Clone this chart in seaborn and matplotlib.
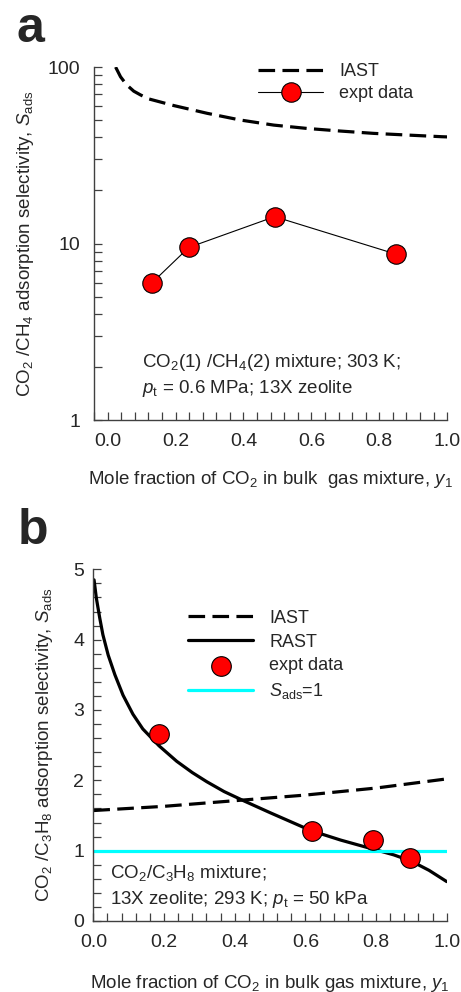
import numpy as np
import pandas as pd
import seaborn as sns
import matplotlib.pyplot as plt
from matplotlib.ticker import MultipleLocator, LogLocator, FixedLocator, NullFormatter

# panel a : CO2/CH4, 13X, 303 K
a_iast_x = [0.0235, 0.038, 0.056, 0.077, 0.097, 0.121, 0.195, 0.293, 0.391, 0.489,
            0.587, 0.685, 0.783, 0.881, 0.984, 1.0]
a_iast_y = [100.0, 88.1, 79.3, 73.0, 69.5, 66.0, 60.5, 54.7, 50.1, 46.9,
            44.9, 43.4, 42.1, 41.2, 40.3, 40.2]
a_expt_x = [0.131, 0.239, 0.492, 0.85]
a_expt_y = [6.0, 9.5, 14.2, 8.7]

# panel b : CO2/C3H8, 13X, 293 K
b_rast_x = [0.002, 0.0085, 0.018, 0.027, 0.042, 0.061, 0.084, 0.112, 0.14, 0.186,
            0.236, 0.28, 0.321, 0.37, 0.425, 0.5, 0.55, 0.6, 0.65, 0.7, 0.75,
            0.8, 0.85, 0.9, 0.95, 1.0]
b_rast_y = [4.85, 4.59, 4.31, 4.07, 3.78, 3.50, 3.21, 2.94, 2.73, 2.49,
            2.27, 2.11, 1.98, 1.84, 1.71, 1.54, 1.43, 1.32, 1.23, 1.15, 1.08,
            1.01, 0.94, 0.85, 0.72, 0.56]
b_iast_x = [0.0, 0.2, 0.4, 0.6, 0.8, 1.0]
b_iast_y = [1.57, 1.63, 1.71, 1.79, 1.89, 2.02]
b_expt_x = [0.186, 0.62, 0.79, 0.896]
b_expt_y = [2.66, 1.285, 1.15, 0.896]
b_unity_x = [0.0, 1.0]
b_unity_y = [1.0, 1.0]

sns.set_style("ticks")
plt.rcParams['font.family'] = ['Liberation Sans', 'DejaVu Sans']
plt.rcParams['mathtext.fontset'] = 'custom'
plt.rcParams['mathtext.rm'] = 'Liberation Sans'
plt.rcParams['mathtext.it'] = 'Liberation Sans:italic'

FS = 13.5      # labels, notes
TFS = 14       # tick labels
LFS = 13       # legend
SPINE = '#404040'
DASH = (0, (5.2, 2.3))

fig = plt.figure(figsize=(4.61, 9.92), dpi=100)
ax1 = fig.add_axes([0.204, 0.5766, 0.766, 0.3558])
ax2 = fig.add_axes([0.2025, 0.0716, 0.7665, 0.3545])

def style_axis(ax):
    sns.despine(ax=ax)
    for s in ['left', 'bottom']:
        ax.spines[s].set_color(SPINE)
        ax.spines[s].set_linewidth(1.0)
    ax.tick_params(which='both', direction='in', length=6, width=0.9,
                   color=SPINE, labelsize=TFS, top=False, right=False)

# ---- a ----
sns.lineplot(x=a_iast_x, y=a_iast_y, ax=ax1, color='black', lw=2.3,
             sort=False, estimator=None, label='IAST')
ax1.lines[-1].set_linestyle(DASH)
sns.lineplot(x=a_expt_x, y=a_expt_y, ax=ax1, color='black', lw=0.8, marker='o',
             markersize=14, markerfacecolor='red', markeredgecolor='black',
             markeredgewidth=0.8, sort=False, estimator=None, label='expt data')
ax1.set_yscale('log')
ax1.set_ylim(1, 100)
ax1.set_xlim(-0.04, 1.0)
ax1.xaxis.set_major_locator(FixedLocator([0, 0.2, 0.4, 0.6, 0.8, 1.0]))
ax1.xaxis.set_minor_locator(MultipleLocator(0.04))
ax1.yaxis.set_major_locator(FixedLocator([1, 10, 100]))
ax1.yaxis.set_minor_locator(LogLocator(subs=np.arange(2, 10)))
ax1.yaxis.set_minor_formatter(NullFormatter())
ax1.set_yticklabels(['1', '10', '100'])
ax1.set_xticklabels(['0.0', '0.2', '0.4', '0.6', '0.8', '1.0'])
style_axis(ax1)
ax1.tick_params(axis='y', pad=10)
ax1.tick_params(axis='x', pad=9.0)
ax1.set_xlabel(r'Mole fraction of CO$_2$ in bulk  gas mixture, $y_1$', fontsize=FS)
ax1.set_ylabel(r'CO$_2$ /CH$_4$ adsorption selectivity, $S_{\mathrm{ads}}$', fontsize=FS)
ax1.xaxis.set_label_coords(0.5, -0.14)
ax1.yaxis.set_label_coords(-0.163, 0.5)
h, l = ax1.get_legend_handles_labels()
ax1.legend(h, l, loc='upper left', bbox_to_anchor=(0.465, 1.012), frameon=False,
           fontsize=LFS, handlelength=3.6, handletextpad=0.9, labelspacing=0.3,
           borderpad=0, borderaxespad=0)
ax1.text(0.136, 0.151, r'CO$_2$(1) /CH$_4$(2) mixture; 303 K;', transform=ax1.transAxes,
         fontsize=FS, va='baseline')
ax1.text(0.136, 0.0765, r'$p_{\mathrm{t}}$ = 0.6 MPa; 13X zeolite', transform=ax1.transAxes,
         fontsize=FS, va='baseline')

# ---- b ----
sns.lineplot(x=b_iast_x, y=b_iast_y, ax=ax2, color='black', lw=2.3,
             sort=False, estimator=None, label='IAST')
ax2.lines[-1].set_linestyle(DASH)
sns.lineplot(x=b_rast_x, y=b_rast_y, ax=ax2, color='black', lw=2.3,
             sort=False, estimator=None, label='RAST')
sns.scatterplot(x=b_expt_x, y=b_expt_y, ax=ax2, color='red', edgecolor='black',
                linewidth=0.8, s=200, zorder=3, label='expt data')
sns.lineplot(x=b_unity_x, y=b_unity_y, ax=ax2, color='#00FFFF', lw=2.3,
             sort=False, estimator=None, label=r'$S_{\mathrm{ads}}$=1')
ax2.set_xlim(0, 1.0)
ax2.set_ylim(0, 5)
ax2.xaxis.set_major_locator(FixedLocator([0, 0.2, 0.4, 0.6, 0.8, 1.0]))
ax2.xaxis.set_minor_locator(MultipleLocator(0.04))
ax2.yaxis.set_major_locator(MultipleLocator(1))
ax2.yaxis.set_minor_locator(MultipleLocator(0.2))
ax2.set_xticklabels(['0.0', '0.2', '0.4', '0.6', '0.8', '1.0'])
style_axis(ax2)
ax2.tick_params(axis='y', pad=6.5)
ax2.tick_params(axis='x', pad=9.5)
ax2.set_xlabel(r'Mole fraction of CO$_2$ in bulk gas mixture, $y_1$', fontsize=FS)
ax2.set_ylabel(r'CO$_2$ /C$_3$H$_8$ adsorption selectivity, $S_{\mathrm{ads}}$', fontsize=FS)
ax2.xaxis.set_label_coords(0.5, -0.147)
ax2.yaxis.set_label_coords(-0.108, 0.5)
h, l = ax2.get_legend_handles_labels()
ax2.legend(h, l, loc='upper left', bbox_to_anchor=(0.268, 0.885), frameon=False,
           fontsize=LFS, handlelength=3.6, handletextpad=0.9, labelspacing=0.38,
           borderpad=0, borderaxespad=0, scatterpoints=1)
ax2.text(0.047, 0.122, r'CO$_2$/C$_3$H$_8$ mixture;', transform=ax2.transAxes,
         fontsize=FS, va='baseline')
ax2.text(0.047, 0.048, r'13X zeolite; 293 K; $p_{\mathrm{t}}$ = 50 kPa', transform=ax2.transAxes,
         fontsize=FS, va='baseline')

fig.text(17 / 461, 1 - 42.5 / 992, 'a', fontsize=36, fontweight='bold', va='baseline')
fig.text(18 / 461, 1 - 544 / 992, 'b', fontsize=36, fontweight='bold', va='baseline')

fig.savefig('out.png', dpi=100)
